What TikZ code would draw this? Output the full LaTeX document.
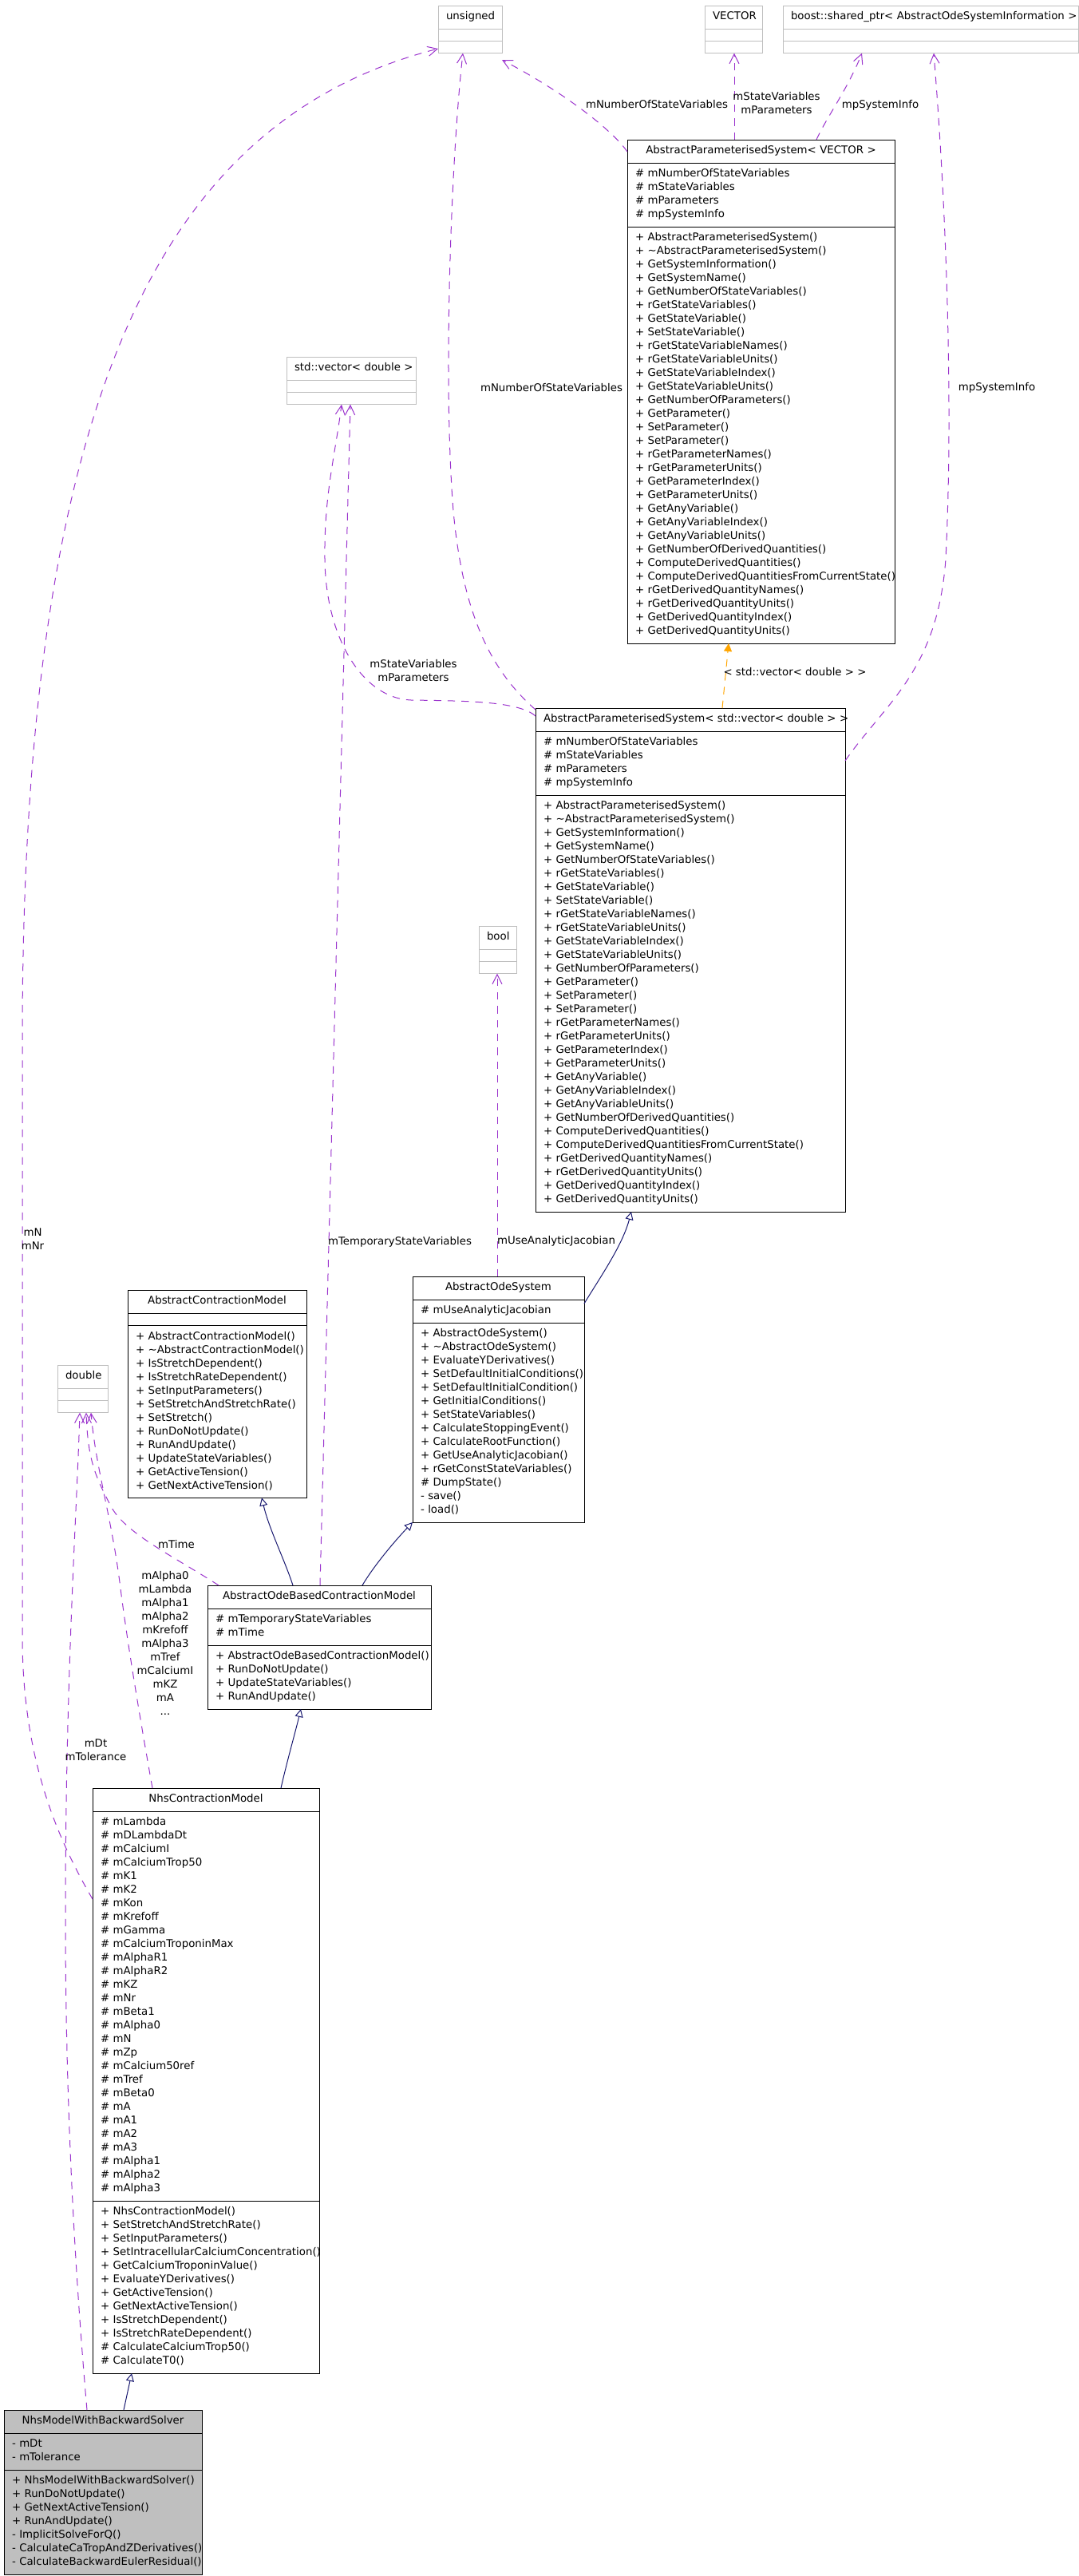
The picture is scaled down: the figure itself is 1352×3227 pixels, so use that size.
\documentclass[tikz,border=0pt]{standalone}
\usepackage{fontspec}
\setmainfont{DejaVu Sans}
\usepackage{tikz}
\usetikzlibrary{calc,arrows.meta,shapes.multipart}
\definecolor{usepurple}{HTML}{9A32CD}
\definecolor{inhnavy}{HTML}{191970}
\definecolor{tmplorange}{HTML}{FFA500}
\definecolor{extgray}{HTML}{BFBFBF}
\newdimen\pxu \pxu=0.75pt
\newcommand\umlfont{\fontsize{10pt}{12.75pt}\selectfont}
\newcommand\umlrows[1]{\raggedright\begin{tabular}{@{}l@{}}#1\end{tabular}}
\newcommand\umlbox[3]{\hbox to\hsize{\hfil\strut#1\hss}\nodepart{two}\umlrows{#2}\nodepart{three}\umlrows{#3}}
\newcommand\apsattr{\# mNumberOfStateVariables\\\# mStateVariables\\\# mParameters\\\# mpSystemInfo}
\newcommand\apsops{+ AbstractParameterisedSystem()\\+ \textasciitilde AbstractParameterisedSystem()\\+ GetSystemInformation()\\+ GetSystemName()\\+ GetNumberOfStateVariables()\\+ rGetStateVariables()\\+ GetStateVariable()\\+ SetStateVariable()\\+ rGetStateVariableNames()\\+ rGetStateVariableUnits()\\+ GetStateVariableIndex()\\+ GetStateVariableUnits()\\+ GetNumberOfParameters()\\+ GetParameter()\\+ SetParameter()\\+ SetParameter()\\+ rGetParameterNames()\\+ rGetParameterUnits()\\+ GetParameterIndex()\\+ GetParameterUnits()\\+ GetAnyVariable()\\+ GetAnyVariableIndex()\\+ GetAnyVariableUnits()\\+ GetNumberOfDerivedQuantities()\\+ ComputeDerivedQuantities()\\+ ComputeDerivedQuantitiesFromCurrentState()\\+ rGetDerivedQuantityNames()\\+ rGetDerivedQuantityUnits()\\+ GetDerivedQuantityIndex()\\+ GetDerivedQuantityUnits()}
\tikzset{
  cls/.style={rectangle split,rectangle split parts=3,draw=black,line width=0.75pt,anchor=north west,
    inner xsep=10\pxu,inner ysep=5.5\pxu,outer sep=0pt,align=left,font=\umlfont},
  extcls/.style={cls,draw=extgray},
  lbl/.style={font=\umlfont,align=center,inner sep=0pt,execute at begin node=\strut,execute at end node=\strut},
  uses/.style={usepurple,line width=0.75pt,dash pattern=on 7pt off 6pt,-{Straight Barb[length=9pt,width=9pt]}},
  inh/.style={inhnavy,line width=0.75pt,-{Triangle[open,length=7.5pt,width=7.5pt]}},
  tmpl/.style={tmplorange,line width=0.75pt,dash pattern=on 7pt off 6pt,-{Triangle[length=7.5pt,width=7.5pt]}}
}
\begin{document}
\begin{tikzpicture}[x=0.75pt,y=-0.75pt]
\useasboundingbox (0,0) rectangle (1352,3227);
\node[extcls,text width=60\pxu] (unsig) at (549,7) {\umlbox{unsigned}{}{}};
\node[extcls,text width=52\pxu] (vect) at (883,7) {\umlbox{VECTOR}{}{}};
\node[extcls,text width=350\pxu] (bsp) at (981,7) {\umlbox{boost::shared\_ptr< AbstractOdeSystemInformation >}{}{}};
\node[cls,text width=315\pxu] (apsv) at (786,175) {\umlbox{AbstractParameterisedSystem< VECTOR >}{\apsattr}{\apsops}};
\node[extcls,text width=142\pxu] (stdvec) at (359,447) {\umlbox{std::vector< double >}{}{}};
\node[cls,text width=368\pxu] (apsd) at (671,887) {\umlbox{AbstractParameterisedSystem< std::vector< double > >}{\apsattr}{\apsops}};
\node[extcls,text width=27\pxu] (boolc) at (600,1160) {\umlbox{bool}{}{}};
\node[cls,text width=204\pxu] (acm) at (160,1616) {\umlbox{AbstractContractionModel}{}{+ AbstractContractionModel()\\+ \textasciitilde AbstractContractionModel()\\+ IsStretchDependent()\\+ IsStretchRateDependent()\\+ SetInputParameters()\\+ SetStretchAndStretchRate()\\+ SetStretch()\\+ RunDoNotUpdate()\\+ RunAndUpdate()\\+ UpdateStateVariables()\\+ GetActiveTension()\\+ GetNextActiveTension()}};
\node[extcls,text width=43.5\pxu] (dbl) at (72,1710) {\umlbox{double}{}{}};
\node[cls,text width=195\pxu] (aos) at (517,1599) {\umlbox{AbstractOdeSystem}{\# mUseAnalyticJacobian}{+ AbstractOdeSystem()\\+ \textasciitilde AbstractOdeSystem()\\+ EvaluateYDerivatives()\\+ SetDefaultInitialConditions()\\+ SetDefaultInitialCondition()\\+ GetInitialConditions()\\+ SetStateVariables()\\+ CalculateStoppingEvent()\\+ CalculateRootFunction()\\+ GetUseAnalyticJacobian()\\+ rGetConstStateVariables()\\\# DumpState()\\- save()\\- load()}};
\node[cls,text width=260\pxu] (aobcm) at (260,1986) {\umlbox{AbstractOdeBasedContractionModel}{\# mTemporaryStateVariables\\\# mTime}{+ AbstractOdeBasedContractionModel()\\+ RunDoNotUpdate()\\+ UpdateStateVariables()\\+ RunAndUpdate()}};
\node[cls,text width=264\pxu] (nhs) at (116,2240) {\umlbox{NhsContractionModel}{\# mLambda\\\# mDLambdaDt\\\# mCalciumI\\\# mCalciumTrop50\\\# mK1\\\# mK2\\\# mKon\\\# mKrefoff\\\# mGamma\\\# mCalciumTroponinMax\\\# mAlphaR1\\\# mAlphaR2\\\# mKZ\\\# mNr\\\# mBeta1\\\# mAlpha0\\\# mN\\\# mZp\\\# mCalcium50ref\\\# mTref\\\# mBeta0\\\# mA\\\# mA1\\\# mA2\\\# mA3\\\# mAlpha1\\\# mAlpha2\\\# mAlpha3}{+ NhsContractionModel()\\+ SetStretchAndStretchRate()\\+ SetInputParameters()\\+ SetIntracellularCalciumConcentration()\\+ GetCalciumTroponinValue()\\+ EvaluateYDerivatives()\\+ GetActiveTension()\\+ GetNextActiveTension()\\+ IsStretchDependent()\\+ IsStretchRateDependent()\\\# CalculateCalciumTrop50()\\\# CalculateT0()}};
\node[cls,fill=extgray,text width=228\pxu] (nmwbs) at (5,3019) {\umlbox{NhsModelWithBackwardSolver}{- mDt\\- mTolerance}{+ NhsModelWithBackwardSolver()\\+ RunDoNotUpdate()\\+ GetNextActiveTension()\\+ RunAndUpdate()\\- ImplicitSolveForQ()\\- CalculateCaTropAndZDerivatives()\\- CalculateBackwardEulerResidual()}};
\draw[uses] ($(apsv.north west)+(0,15)$) .. controls (765,160) and (700,112) .. ($(unsig.north east)+(0,68)$);
\draw[uses] ($(apsv.north west)+(134,0)$) -- ($(vect.south west)+(37,0)$);
\draw[uses] ($(apsv.north west)+(237,0)$) .. controls (1035,148) and (1062,112) .. ($(bsp.south west)+(99,0)$);
\draw[uses] ($(apsd.north east)+(0,66)$) .. controls (1110,880) and (1175,840) .. (1185,700) .. controls (1195,500) and (1185,250) .. ($(bsp.south west)+(189,0)$);
\draw[uses] ($(apsd.north west)+(0,2)$) .. controls (615,840) and (580,770) .. (568,640) .. controls (555,480) and (565,200) .. ($(unsig.south west)+(31,0)$);
\draw[uses] ($(apsd.north west)+(0,10)$) .. controls (650,878) and (580,878) .. (515,877) .. controls (455,875) and (408,800) .. (407,700) .. controls (406,620) and (420,570) .. ($(stdvec.south west)+(69,0)$);
\draw[uses] ($(aobcm.north west)+(141,0)$) -- ($(stdvec.south west)+(80,0)$);
\draw[uses] ($(aos.north west)+(106,0)$) -- ($(boolc.south west)+(23,0)$);
\draw[uses] ($(aobcm.north west)+(14,0)$) .. controls (215,1948) and (155,1920) .. (138,1885) .. controls (120,1850) and (110,1830) .. ($(dbl.south west)+(36,0)$);
\draw[uses] ($(nhs.north west)+(75,0)$) .. controls (175,2150) and (160,2060) .. (151,1990) .. controls (140,1900) and (120,1840) .. ($(dbl.south west)+(42,0)$);
\draw[uses] ($(nmwbs.north west)+(104,0)$) .. controls (90,2800) and (82,2600) .. (82,2400) .. controls (82,2100) and (96,1900) .. ($(dbl.south west)+(28,0)$);
\draw[uses] ($(nhs.north west)+(0,139)$) .. controls (70,2300) and (28,2200) .. (28,2050) -- (28,1300) .. controls (28,500) and (200,150) .. ($(unsig.north west)+(0,54)$);
\draw[tmpl] ($(apsd.north west)+(234,0)$) -- ($(apsv.south west)+(127,0)$);
\draw[inh] ($(aos.north east)+(0,34)$) .. controls (752,1600) and (780,1560) .. ($(apsd.south west)+(120,0)$);
\draw[inh] ($(aobcm.north west)+(107,0)$) .. controls (357,1955) and (337,1915) .. ($(acm.south west)+(168,0)$);
\draw[inh] ($(aobcm.north west)+(194,0)$) .. controls (468,1962) and (495,1930) .. (aos.south west);
\draw[inh] ($(nhs.north west)+(236,0)$) .. controls (360,2205) and (370,2170) .. ($(aobcm.south west)+(117,0)$);
\draw[inh] ($(nmwbs.north west)+(150,0)$) -- ($(nhs.south west)+(49,0)$);
\node[lbl] (lnsv) at (823,132) {mNumberOfStateVariables};
\node[lbl] (lsvp) at (973,131) {mStateVariables\\mParameters};
\node[lbl] (lpsi) at (1103,132) {mpSystemInfo};
\node[lbl] (lnsvd) at (691,487) {mNumberOfStateVariables};
\node[lbl] (lpsid) at (1249,486) {mpSystemInfo};
\node[lbl] (lsvpd) at (518,842) {mStateVariables\\mParameters};
\node[lbl] (ltmpl) at (996,843) {< std::vector< double > >};
\node[lbl] (luaj) at (697,1555) {mUseAnalyticJacobian};
\node[lbl] (ltsv) at (501,1556) {mTemporaryStateVariables};
\node[lbl] (lnnr) at (41,1555) {mN\\mNr};
\node[lbl] (ltime) at (221,1936) {mTime};
\node[lbl] (lnhs) at (207,2061) {mAlpha0\\mLambda\\mAlpha1\\mAlpha2\\mKrefoff\\mAlpha3\\mTref\\mCalciumI\\mKZ\\mA\\...};
\node[lbl] (ldt) at (120,2195) {mDt\\mTolerance};
\end{tikzpicture}
\end{document}
